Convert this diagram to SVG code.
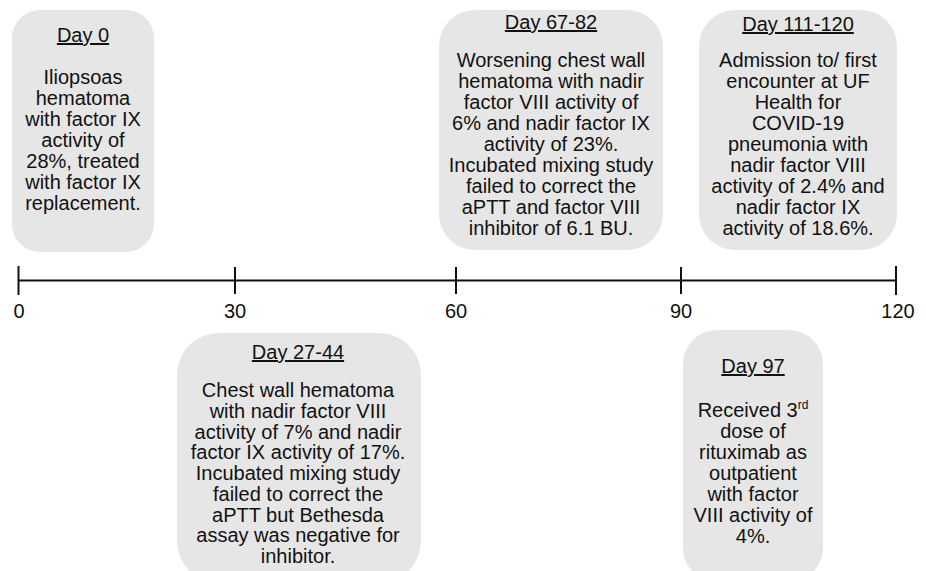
<svg xmlns="http://www.w3.org/2000/svg" width="926" height="571" viewBox="0 0 926 571">
<style>
.box{fill:#e6e6e6;stroke:none}
text{font-family:"Liberation Sans",Arial,sans-serif;font-size:20px;fill:#111;text-anchor:middle}
.t{text-decoration:underline}
.ax{stroke:#111;stroke-width:2;fill:none}
</style>
<rect width="926" height="571" fill="#fff"/>
<g id="connectors">
<line class="ax" x1="18.5" y1="280.5" x2="896" y2="280.5"/>
<line class="ax" x1="18.5" y1="266" x2="18.5" y2="295"/>
<line class="ax" x1="235" y1="267" x2="235" y2="294"/>
<line class="ax" x1="456" y1="267" x2="456" y2="294"/>
<line class="ax" x1="681" y1="267" x2="681" y2="294"/>
<line class="ax" x1="896" y1="266" x2="896" y2="295"/>
<text x="19" y="318">0</text>
<text x="235" y="318">30</text>
<text x="456" y="318">60</text>
<text x="681" y="318">90</text>
<text x="898" y="318">120</text>
</g>
<g id="day0">
<rect class="box" x="12" y="10" width="142" height="242" rx="28"/>
<text class="t" x="83" y="42">Day 0</text>
<text x="83" y="84">Iliopsoas</text>
<text x="83" y="105">hematoma</text>
<text x="83" y="126">with factor IX</text>
<text x="83" y="147">activity of</text>
<text x="83" y="168">28%, treated</text>
<text x="83" y="189">with factor IX</text>
<text x="83" y="210">replacement.</text>
</g>
<g id="day67">
<rect class="box" x="439" y="10" width="224" height="240" rx="36"/>
<text class="t" x="551" y="29">Day 67-82</text>
<text x="551" y="67">Worsening chest wall</text>
<text x="551" y="88">hematoma with nadir</text>
<text x="551" y="109">factor VIII activity of</text>
<text x="551" y="130">6% and nadir factor IX</text>
<text x="551" y="151">activity of 23%.</text>
<text x="551" y="172">Incubated mixing study</text>
<text x="551" y="193">failed to correct the</text>
<text x="551" y="214">aPTT and factor VIII</text>
<text x="551" y="235">inhibitor of 6.1 BU.</text>
</g>
<g id="day111">
<rect class="box" x="699" y="10" width="198" height="240" rx="36"/>
<text class="t" x="798" y="31">Day 111-120</text>
<text x="798" y="67">Admission to/ first</text>
<text x="798" y="88">encounter at UF</text>
<text x="798" y="109">Health for</text>
<text x="798" y="130">COVID-19</text>
<text x="798" y="151">pneumonia with</text>
<text x="798" y="172">nadir factor VIII</text>
<text x="798" y="193">activity of 2.4% and</text>
<text x="798" y="214">nadir factor IX</text>
<text x="798" y="235">activity of 18.6%.</text>
</g>
<g id="day27">
<rect class="box" x="177" y="333" width="244" height="250" rx="42"/>
<text class="t" x="298" y="359">Day 27-44</text>
<text x="298" y="397">Chest wall hematoma</text>
<text x="298" y="418">with nadir factor VIII</text>
<text x="298" y="439">activity of 7% and nadir</text>
<text x="298" y="459">factor IX activity of 17%.</text>
<text x="298" y="480">Incubated mixing study</text>
<text x="298" y="501">failed to correct the</text>
<text x="298" y="522">aPTT but Bethesda</text>
<text x="298" y="542">assay was negative for</text>
<text x="298" y="563">inhibitor.</text>
</g>
<g id="day97">
<rect class="box" x="683" y="330" width="140" height="252" rx="34"/>
<text class="t" x="753" y="373">Day 97</text>
<text x="753" y="417">Received 3<tspan font-size="12" dy="-8">rd</tspan></text>
<text x="753" y="438">dose of</text>
<text x="753" y="459">rituximab as</text>
<text x="753" y="480">outpatient</text>
<text x="753" y="501">with factor</text>
<text x="753" y="522">VIII activity of</text>
<text x="753" y="543">4%.</text>
</g>
</svg>
